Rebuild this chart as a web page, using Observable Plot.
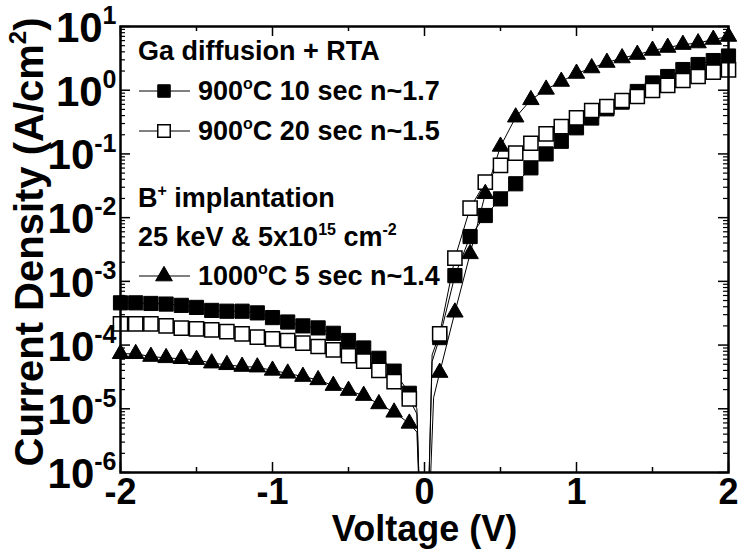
<!DOCTYPE html>
<html><head><meta charset="utf-8">
<script src="https://cdn.jsdelivr.net/npm/d3@7"></script>
<script src="https://cdn.jsdelivr.net/npm/@observablehq/plot@0.6"></script>
<style>
body{margin:0;background:#fff;}
#chart{width:742px;height:556px;}
</style></head><body><div id="chart"></div>
<script>
// ---- data ----
const voltageRev = [-2.0,-1.9,-1.8,-1.7,-1.6,-1.5,-1.4,-1.3,-1.2,-1.1,-1.0,-0.9,-0.8,-0.7,-0.6,-0.5,-0.4,-0.3,-0.2,-0.1];
const voltageFwd = [0.1,0.2,0.3,0.4,0.5,0.6,0.7,0.8,0.9,1.0,1.1,1.2,1.3,1.4,1.5,1.6,1.7,1.8,1.9,2.0];

const s10Rev = [4.6e-4,4.6e-4,4.5e-4,4.4e-4,4.2e-4,3.9e-4,3.5e-4,3.4e-4,3.4e-4,3.2e-4,2.7e-4,2.3e-4,2.0e-4,1.86e-4,1.53e-4,1.18e-4,9.0e-5,6.2e-5,3.9e-5,1.75e-5];
const s10Fwd = [1.31e-4,1.23e-3,5.05e-3,1.08e-2,1.97e-2,3.4e-2,6.05e-2,0.100,0.158,0.257,0.366,0.51,0.65,0.955,1.30,1.64,2.11,2.53,2.92,3.44];

const s20Rev = [2.15e-4,2.15e-4,2.15e-4,2.0e-4,1.84e-4,1.8e-4,1.73e-4,1.63e-4,1.5e-4,1.33e-4,1.25e-4,1.18e-4,1.07e-4,9.5e-5,8.4e-5,6.8e-5,5.6e-5,4.0e-5,2.67e-5,1.43e-5];
const s20Fwd = [1.50e-4,2.31e-3,1.41e-2,3.6e-2,6.6e-2,0.103,0.147,0.207,0.269,0.369,0.48,0.555,0.69,0.796,0.99,1.19,1.42,1.64,1.92,2.09];

const b5Rev = [7.3e-5,7.3e-5,6.6e-5,6.3e-5,6.1e-5,5.9e-5,5.2e-5,4.9e-5,4.6e-5,4.5e-5,4.0e-5,3.6e-5,3.2e-5,2.84e-5,2.31e-5,1.93e-5,1.61e-5,1.19e-5,8.8e-6,5.9e-6];
const b5Fwd = [3.7e-5,3.27e-4,2.7e-3,2.37e-2,0.131,0.377,0.706,1.03,1.37,1.83,2.23,2.72,3.2,3.63,4.2,4.68,5.2,5.5,6.25,6.97];

// unmarked bends of the connecting lines around 0 V (the curves dive off the bottom)
const bendVoltage = [-0.05,-0.025,0.02,0.05];
const s10Bend = [1.0e-5,1e-7,1e-7,5.5e-5];
const s20Bend = [8.3e-6,1e-7,1e-7,7.0e-5];
const b5BendVoltage = [-0.05,-0.025,0.025,0.06];
const b5Bend = [4.3e-6,1e-7,1e-7,1.5e-5];

const seriesNames = ["900^{o}C 10 sec n~1.7","900^{o}C 20 sec n~1.5","1000^{o}C 5 sec n~1.4"];
const xMajor = [-2,-1,0,1,2];
const xMinor = [-1.5,-0.5,0.5,1.5];
const yMajor = [1e-6,1e-5,1e-4,1e-3,1e-2,1e-1,1,10];
const yMinor = [];
for (let k = -6; k <= 0; k++) for (let m = 2; m <= 9; m++) yMinor.push(m * Math.pow(10, k));

const xLabel = "Voltage (V)";
const yLabel = "Current Density (A/cm^{2})";
const legendHead1 = "Ga diffusion + RTA";
const legendHead2 = "B^{+} implantation";
const legendHead3 = "25 keV & 5x10^{15} cm^{-2}";

// ---- build tables ----
function rows(vs, js) { return vs.map((v, i) => ({v, j: js[i]})); }
function lineRows(rv, rj, bv, bj, fv, fj) {
  return rows(rv, rj).concat(rows(bv, bj), rows(fv, fj)).sort((a, b) => a.v - b.v);
}
const s10Pts = rows(voltageRev, s10Rev).concat(rows(voltageFwd, s10Fwd));
const s20Pts = rows(voltageRev, s20Rev).concat(rows(voltageFwd, s20Fwd));
const b5Pts = rows(voltageRev, b5Rev).concat(rows(voltageFwd, b5Fwd));
const s10Line = lineRows(voltageRev, s10Rev, bendVoltage, s10Bend, voltageFwd, s10Fwd);
const s20Line = lineRows(voltageRev, s20Rev, bendVoltage, s20Bend, voltageFwd, s20Fwd);
const b5Line = lineRows(voltageRev, b5Rev, b5BendVoltage, b5Bend, voltageFwd, b5Fwd);

const FONT = '"Liberation Sans", Arial, Helvetica, sans-serif';
const W = 742, H = 556, mL = 120, mR = 14, mT = 26, mB = 84;
const pH = H - mT - mB, pW = W - mL - mR;
const TICK = 10, MTICK = 5;
const SQ_R = 8.0, TRI_R = 6.1;
const XT = 36, YT = 42, XL = 36, YL = 40, LG = 27;

const chart = Plot.plot({
  width: W, height: H,
  marginLeft: mL, marginRight: mR, marginTop: mT, marginBottom: mB,
  style: {fontFamily: FONT, fontWeight: "bold", background: "#fff", color: "#000", overflow: "visible"},
  x: {domain: [-2, 2], axis: null},
  y: {type: "log", domain: [1e-6, 10], axis: null},
  marks: [
    // inward ticks on all four sides
    Plot.tickX(xMajor, {x: d => d, insetTop: pH - TICK, strokeWidth: 1.5}),
    Plot.tickX(xMajor, {x: d => d, insetBottom: pH - TICK, strokeWidth: 1.5}),
    Plot.tickX(xMinor, {x: d => d, insetTop: pH - MTICK, strokeWidth: 1.5}),
    Plot.tickX(xMinor, {x: d => d, insetBottom: pH - MTICK, strokeWidth: 1.5}),
    Plot.tickY(yMajor, {y: d => d, insetRight: pW - TICK, strokeWidth: 1.5}),
    Plot.tickY(yMajor, {y: d => d, insetLeft: pW - TICK, strokeWidth: 1.5}),
    Plot.tickY(yMinor, {y: d => d, insetRight: pW - MTICK, strokeWidth: 1.2}),
    Plot.tickY(yMinor, {y: d => d, insetLeft: pW - MTICK, strokeWidth: 1.2}),
    // curves
    Plot.line(s10Line, {x: "v", y: "j", stroke: "#000", strokeWidth: 1, clip: true}),
    Plot.line(s20Line, {x: "v", y: "j", stroke: "#000", strokeWidth: 1, clip: true}),
    Plot.line(b5Line, {x: "v", y: "j", stroke: "#000", strokeWidth: 1, clip: true}),
    Plot.dot(s10Pts, {x: "v", y: "j", symbol: "square", r: SQ_R, fill: "#000", stroke: "#000", strokeWidth: 1}),
    Plot.dot(s20Pts, {x: "v", y: "j", symbol: "square", r: SQ_R, fill: "#fff", stroke: "#000", strokeWidth: 1.5}),
    Plot.dot(b5Pts, {x: "v", y: "j", symbol: "triangle", r: TRI_R, fill: "#000", stroke: "#000", strokeWidth: 1}),
    Plot.frame({stroke: "#000", strokeWidth: 2.5}),
    // tick labels
    Plot.text(xMajor, {x: d => d, text: d => String(d), frameAnchor: "bottom", dy: 20, lineAnchor: "middle", fontSize: XT, fontWeight: "bold"}),
    Plot.text(yMajor, {y: d => d, text: d => "10^{" + Math.round(Math.log10(d)) + "}", frameAnchor: "left", dx: -4, dy: 2, textAnchor: "end", lineAnchor: "middle", fontSize: YT, fontWeight: "bold"}),
    // x axis title
    Plot.text([xLabel], {text: d => d, frameAnchor: "bottom", dy: 57, lineAnchor: "middle", fontSize: XL, fontWeight: "bold"})
  ]
});
document.getElementById("chart").appendChild(chart);

// ---- superscript markup:  base^{sup}rest ----
function setRich(el, str, size) {
  const sel = d3.select(el);
  sel.text(null);
  const supSize = Math.round(size * 0.6);
  const shift = size * 0.42;
  let raised = false;
  str.split(/(\^\{[^}]*\})/).forEach(part => {
    if (!part) return;
    const m = part.match(/^\^\{(.*)\}$/);
    if (m) {
      sel.append("tspan").attr("font-size", supSize).attr("dy", -shift).text(m[1]);
      raised = true;
    } else {
      const t = sel.append("tspan").text(part);
      if (raised) { t.attr("dy", shift); raised = false; }
    }
  });
}
const svg = d3.select(chart);
svg.selectAll("text").each(function () {
  const s = this.textContent;
  if (s.includes("^{")) {
    const host = this.closest("[font-size]");
    const fs = host ? parseFloat(host.getAttribute("font-size")) : YT;
    setRich(this, s, fs);
  }
});

// ---- y axis title (rotated) ----
const yt = svg.append("text")
  .attr("transform", `translate(29,${mT + 216}) rotate(-90)`)
  .attr("text-anchor", "middle").attr("dy", "0.35em")
  .attr("font-family", FONT).attr("font-weight", "bold").attr("font-size", YL).attr("fill", "#000");
setRich(yt.node(), yLabel, YL);

// ---- legend (inside the frame, upper left) ----
const leg = svg.append("g").attr("font-family", FONT).attr("font-weight", "bold")
  .attr("font-size", LG).attr("fill", "#000").attr("text-anchor", "start");
const LX = mL + 18, LINE0 = mL + 19, LINE1 = mL + 70, MX = mL + 44, TX = mL + 78;
function head(text, y) { setRich(leg.append("text").attr("x", LX).attr("y", y).attr("dy", "0.35em").node(), text, LG); }
function item(i, y, sym, fill) {
  leg.append("line").attr("x1", LINE0).attr("x2", LINE1).attr("y1", y).attr("y2", y).attr("stroke", "#000").attr("stroke-width", 1);
  const size = sym === d3.symbolSquare ? 12.5 * 12.5 : Math.PI * 6.2 * 6.2;
  leg.append("path").attr("d", d3.symbol(sym, size)()).attr("transform", `translate(${MX},${y})`)
     .attr("fill", fill).attr("stroke", "#000").attr("stroke-width", fill === "#fff" ? 1.5 : 1);
  setRich(leg.append("text").attr("x", TX).attr("y", y).attr("dy", "0.35em").node(), seriesNames[i], LG);
}
head(legendHead1, 51);
item(0, 91, d3.symbolSquare, "#000");
item(1, 131, d3.symbolSquare, "#fff");
head(legendHead2, 198);
head(legendHead3, 237);
item(2, 276, d3.symbolTriangle, "#000");
</script>
</body></html>
